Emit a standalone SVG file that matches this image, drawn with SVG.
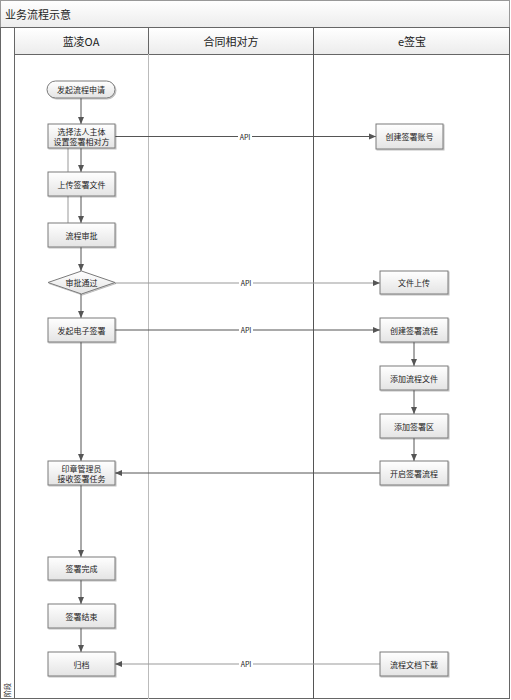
<svg xmlns="http://www.w3.org/2000/svg" width="511" height="700" viewBox="0 0 511 700">
<defs>
<linearGradient id="gBox" x1="0" y1="0" x2="0" y2="1"><stop offset="0" stop-color="#ffffff"/><stop offset="1" stop-color="#e4e4e4"/></linearGradient>
<linearGradient id="gHead" x1="0" y1="0" x2="0" y2="1"><stop offset="0" stop-color="#ffffff"/><stop offset="1" stop-color="#ececec"/></linearGradient>
<marker id="arr" markerWidth="8" markerHeight="8" refX="7" refY="4" orient="auto" markerUnits="userSpaceOnUse"><path d="M0,1 L7,4 L0,7 Z" fill="#555"/></marker>
<filter id="sh" x="-10%" y="-10%" width="130%" height="140%"><feDropShadow dx="1" dy="1" stdDeviation="0.6" flood-color="#000" flood-opacity="0.25"/></filter>
</defs>
<style>
text{font-family:"Noto Sans CJK SC","Liberation Sans",sans-serif;fill:#222}
.box{fill:url(#gBox);stroke:#7a7a7a;stroke-width:1;filter:url(#sh)}
.t{font-size:8px;text-anchor:middle;dominant-baseline:central}
.c{fill:none;stroke:#555;stroke-width:1}
.cl{fill:none;stroke:#999;stroke-width:1}
.api{font-size:7px;text-anchor:middle;dominant-baseline:central}
.hd{font-size:11px;text-anchor:middle;dominant-baseline:central}
</style>
<rect width="511" height="700" fill="#fff"/>
<!-- frame -->
<g id="frame">
<rect x="0.5" y="0.5" width="509" height="27" fill="url(#gHead)" stroke="#999"/>
<text x="5" y="14" style="font-size:11px;dominant-baseline:central">业务流程示意</text>
<rect x="0.5" y="27.5" width="509" height="671" fill="none" stroke="#666"/>
<line x1="14.5" y1="27.5" x2="14.5" y2="699" stroke="#666"/>
<rect x="15" y="28" width="494" height="26" fill="url(#gHead)"/>
<line x1="15" y1="54.5" x2="509" y2="54.5" stroke="#666"/>
<line x1="148.5" y1="28" x2="148.5" y2="54" stroke="#666"/>
<line x1="148.5" y1="54" x2="148.5" y2="699" stroke="#bbb"/>
<line x1="313.5" y1="28" x2="313.5" y2="699" stroke="#555"/>
<text class="hd" x="81" y="41">蓝凌OA</text>
<text class="hd" x="231" y="41">合同相对方</text>
<text class="hd" x="412" y="41">e签宝</text>
<text transform="translate(10,697) rotate(-90)" style="font-size:7px">阶段</text>
</g>
<!-- connectors -->
<g id="connectors">
<line class="cl" x1="68" y1="148" x2="68" y2="223"/>
<line class="c" x1="81" y1="98" x2="81" y2="124" marker-end="url(#arr)"/>
<line class="c" x1="81" y1="148" x2="81" y2="172" marker-end="url(#arr)"/>
<line class="c" x1="81" y1="196" x2="81" y2="223" marker-end="url(#arr)"/>
<line class="c" x1="81" y1="247" x2="81" y2="271" marker-end="url(#arr)"/>
<line class="c" x1="81" y1="294" x2="81" y2="318" marker-end="url(#arr)"/>
<line class="c" x1="81" y1="342" x2="81" y2="461" marker-end="url(#arr)"/>
<line class="c" x1="81" y1="485" x2="81" y2="557" marker-end="url(#arr)"/>
<line class="c" x1="81" y1="580" x2="81" y2="604" marker-end="url(#arr)"/>
<line class="c" x1="81" y1="628" x2="81" y2="652" marker-end="url(#arr)"/>
<line class="c" x1="115" y1="136.5" x2="376" y2="136.5" marker-end="url(#arr)"/>
<line class="cl" x1="115" y1="283" x2="380" y2="283" marker-end="url(#arr)"/>
<line class="c" x1="115" y1="330" x2="380" y2="330" marker-end="url(#arr)"/>
<line class="c" x1="414" y1="342" x2="414" y2="366" marker-end="url(#arr)"/>
<line class="c" x1="414" y1="390" x2="414" y2="414" marker-end="url(#arr)"/>
<line class="c" x1="414" y1="438" x2="414" y2="461" marker-end="url(#arr)"/>
<line class="c" x1="380" y1="473" x2="115" y2="473" marker-end="url(#arr)"/>
<line class="cl" x1="380" y1="664" x2="115" y2="664" marker-end="url(#arr)"/>
<rect x="238" y="132" width="14" height="9" fill="#fff"/><text class="api" x="245" y="136.5">API</text>
<rect x="239" y="279" width="14" height="9" fill="#fff"/><text class="api" x="246" y="283">API</text>
<rect x="239" y="326" width="14" height="9" fill="#fff"/><text class="api" x="246" y="330">API</text>
<rect x="239" y="660" width="14" height="9" fill="#fff"/><text class="api" x="246" y="664">API</text>
</g>
<!-- nodes -->
<g id="n-start"><rect class="box" x="47" y="81" width="68" height="17" rx="8.5"/><text class="t" x="81" y="89.5">发起流程申请</text></g>
<g id="n-select"><rect class="box" x="48" y="124" width="67" height="24"/><text class="t" x="81.5" y="131">选择法人主体</text><text class="t" x="81.5" y="141">设置签署相对方</text></g>
<g id="n-upload"><rect class="box" x="48" y="172" width="67" height="24"/><text class="t" x="81.5" y="184">上传签署文件</text></g>
<g id="n-approve"><rect class="box" x="48" y="223" width="67" height="24"/><text class="t" x="81.5" y="235">流程审批</text></g>
<g id="n-pass"><polygon class="box" points="48,282.5 81.5,271 115,282.5 81.5,294"/><text class="t" x="81.5" y="282.5">审批通过</text></g>
<g id="n-esign"><rect class="box" x="48" y="318" width="67" height="24"/><text class="t" x="81.5" y="330">发起电子签署</text></g>
<g id="n-seal"><rect class="box" x="48" y="461" width="67" height="24"/><text class="t" x="81.5" y="468">印章管理员</text><text class="t" x="81.5" y="478">接收签署任务</text></g>
<g id="n-done"><rect class="box" x="48" y="557" width="67" height="23"/><text class="t" x="81.5" y="568.5">签署完成</text></g>
<g id="n-end"><rect class="box" x="48" y="604" width="67" height="24"/><text class="t" x="81.5" y="616">签署结束</text></g>
<g id="n-archive"><rect class="box" x="48" y="652" width="67" height="24"/><text class="t" x="81.5" y="664">归档</text></g>
<g id="n-account"><rect class="box" x="376" y="124" width="67" height="25"/><text class="t" x="409.5" y="136.5">创建签署账号</text></g>
<g id="n-fileup"><rect class="box" x="380" y="271" width="68" height="23"/><text class="t" x="414" y="282.5">文件上传</text></g>
<g id="n-flow"><rect class="box" x="380" y="318" width="68" height="24"/><text class="t" x="414" y="330">创建签署流程</text></g>
<g id="n-addfile"><rect class="box" x="380" y="366" width="68" height="24"/><text class="t" x="414" y="378">添加流程文件</text></g>
<g id="n-addarea"><rect class="box" x="380" y="414" width="68" height="24"/><text class="t" x="414" y="426">添加签署区</text></g>
<g id="n-startflow"><rect class="box" x="380" y="461" width="68" height="24"/><text class="t" x="414" y="473">开启签署流程</text></g>
<g id="n-download"><rect class="box" x="380" y="652" width="68" height="24"/><text class="t" x="414" y="664">流程文档下载</text></g>
</svg>
